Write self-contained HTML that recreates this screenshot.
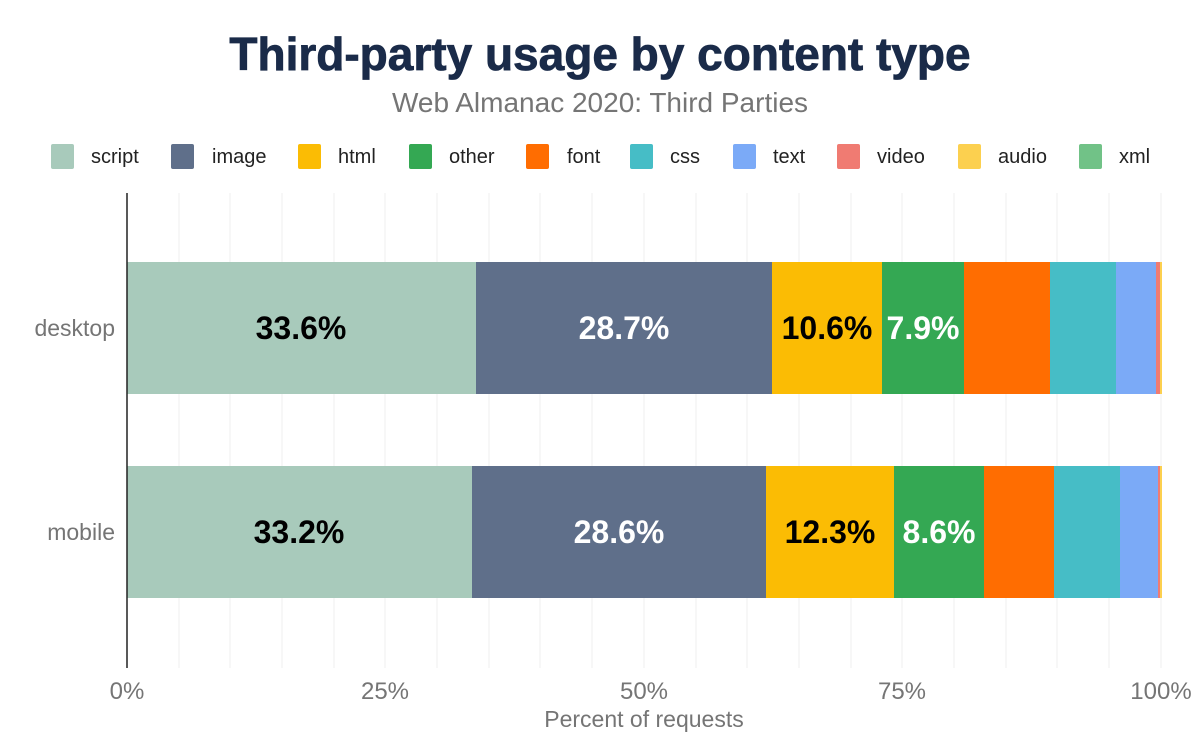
<!DOCTYPE html><html><head><style>body{margin:0;background:#fff}</style></head><body>
<svg width="1200" height="742" xmlns="http://www.w3.org/2000/svg" font-family="Liberation Sans, Arial, sans-serif">
<rect width="1200" height="742" fill="#fff"/>
<text x="600" y="70" text-anchor="middle" font-size="46" font-weight="bold" fill="#1a2b49" stroke="#1a2b49" stroke-width="0.8">Third-party usage by content type</text>
<text x="600" y="112" text-anchor="middle" font-size="28" fill="#757575">Web Almanac 2020: Third Parties</text>
<g font-size="20" fill="#222">
<rect x="51" y="144" width="23" height="25" rx="2" fill="#a8cabb"/><text x="91" y="163">script</text>
<rect x="171" y="144" width="23" height="25" rx="2" fill="#5f6f8a"/><text x="212" y="163">image</text>
<rect x="298" y="144" width="23" height="25" rx="2" fill="#fbbc04"/><text x="338" y="163">html</text>
<rect x="409" y="144" width="23" height="25" rx="2" fill="#34a853"/><text x="449" y="163">other</text>
<rect x="526" y="144" width="23" height="25" rx="2" fill="#ff6d01"/><text x="567" y="163">font</text>
<rect x="630" y="144" width="23" height="25" rx="2" fill="#46bdc6"/><text x="670" y="163">css</text>
<rect x="733" y="144" width="23" height="25" rx="2" fill="#7baaf7"/><text x="773" y="163">text</text>
<rect x="837" y="144" width="23" height="25" rx="2" fill="#f07b72"/><text x="877" y="163">video</text>
<rect x="958" y="144" width="23" height="25" rx="2" fill="#fcd04f"/><text x="998" y="163">audio</text>
<rect x="1079" y="144" width="23" height="25" rx="2" fill="#71c287"/><text x="1119" y="163">xml</text>
</g>
<g stroke="#efefef" stroke-width="1">
<line x1="179" y1="193" x2="179" y2="668"/><line x1="230" y1="193" x2="230" y2="668"/><line x1="282" y1="193" x2="282" y2="668"/><line x1="334" y1="193" x2="334" y2="668"/><line x1="385" y1="193" x2="385" y2="668"/><line x1="437" y1="193" x2="437" y2="668"/><line x1="489" y1="193" x2="489" y2="668"/><line x1="540" y1="193" x2="540" y2="668"/><line x1="592" y1="193" x2="592" y2="668"/><line x1="644" y1="193" x2="644" y2="668"/><line x1="696" y1="193" x2="696" y2="668"/><line x1="747" y1="193" x2="747" y2="668"/><line x1="799" y1="193" x2="799" y2="668"/><line x1="851" y1="193" x2="851" y2="668"/><line x1="902" y1="193" x2="902" y2="668"/><line x1="954" y1="193" x2="954" y2="668"/><line x1="1006" y1="193" x2="1006" y2="668"/><line x1="1057" y1="193" x2="1057" y2="668"/><line x1="1109" y1="193" x2="1109" y2="668"/><line x1="1161" y1="193" x2="1161" y2="668"/>
</g>
<g>
<rect x="127" y="262" width="349" height="132" fill="#a8cabb"/>
<rect x="476" y="262" width="296" height="132" fill="#5f6f8a"/>
<rect x="772" y="262" width="110" height="132" fill="#fbbc04"/>
<rect x="882" y="262" width="82" height="132" fill="#34a853"/>
<rect x="964" y="262" width="86" height="132" fill="#ff6d01"/>
<rect x="1050" y="262" width="66" height="132" fill="#46bdc6"/>
<rect x="1116" y="262" width="40" height="132" fill="#7baaf7"/>
<rect x="1156" y="262" width="4" height="132" fill="#f07b72"/>
<rect x="1160" y="262" width="2" height="132" fill="#fcd04f"/>
<rect x="127" y="466" width="345" height="132" fill="#a8cabb"/>
<rect x="472" y="466" width="294" height="132" fill="#5f6f8a"/>
<rect x="766" y="466" width="128" height="132" fill="#fbbc04"/>
<rect x="894" y="466" width="90" height="132" fill="#34a853"/>
<rect x="984" y="466" width="70" height="132" fill="#ff6d01"/>
<rect x="1054" y="466" width="66" height="132" fill="#46bdc6"/>
<rect x="1120" y="466" width="38" height="132" fill="#7baaf7"/>
<rect x="1158" y="466" width="2" height="132" fill="#f07b72"/>
<rect x="1160" y="466" width="2" height="132" fill="#fcd04f"/>
</g>
<g font-size="32" font-weight="bold" text-anchor="middle">
<text x="301" y="339" fill="#000">33.6%</text><text x="624" y="339" fill="#fff">28.7%</text><text x="827" y="339" fill="#000">10.6%</text><text x="923" y="339" fill="#fff">7.9%</text>
<text x="299" y="543" fill="#000">33.2%</text><text x="619" y="543" fill="#fff">28.6%</text><text x="830" y="543" fill="#000">12.3%</text><text x="939" y="543" fill="#fff">8.6%</text>
</g>
<line x1="127" y1="193" x2="127" y2="668" stroke="#222" stroke-width="1.5"/>
<g font-size="23" fill="#757575" text-anchor="end">
<text x="115" y="336">desktop</text><text x="115" y="540">mobile</text>
</g>
<g font-size="24" fill="#757575" text-anchor="middle">
<text x="127" y="699">0%</text><text x="385" y="699">25%</text><text x="644" y="699">50%</text><text x="902" y="699">75%</text><text x="1161" y="699">100%</text>
<text x="644" y="727" font-size="23">Percent of requests</text>
</g>
</svg></body></html>
